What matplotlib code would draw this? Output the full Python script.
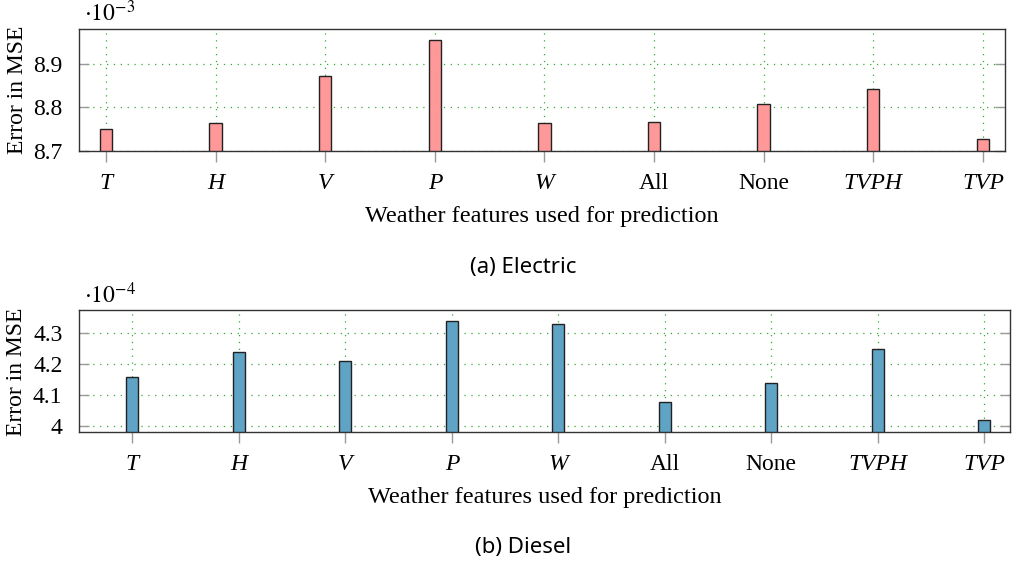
import numpy as np
import matplotlib
matplotlib.use("Agg")
import matplotlib.pyplot as plt

# Data
features = ["T", "H", "V", "P", "W", "All", "None", "TVPH", "TVP"]
italic = [True, True, True, True, True, False, False, True, True]
electric_mse = [8.750e-3, 8.763e-3, 8.871e-3, 8.955e-3, 8.764e-3, 8.766e-3, 8.808e-3, 8.842e-3, 8.727e-3]
diesel_mse = [4.16e-4, 4.24e-4, 4.21e-4, 4.34e-4, 4.33e-4, 4.08e-4, 4.14e-4, 4.25e-4, 4.02e-4]

plt.rcParams["font.family"] = "Liberation Serif"
plt.rcParams["mathtext.fontset"] = "stix"

fig = plt.figure(figsize=(10.16, 5.63), dpi=100)
ax1 = fig.add_axes([0.0778, 0.7318, 0.9112, 0.2172])
ax2 = fig.add_axes([0.0778, 0.2321, 0.9162, 0.2167])

FS = 17

def draw(ax, vals, scale, exp, color, ylim, yticks, ytlabels, xlim):
    x = np.arange(len(features))
    v = np.array(vals) / scale
    ax.bar(x, v - ylim[0], bottom=ylim[0], width=0.113, color=color,
           edgecolor="#222222", linewidth=1.0, zorder=3)
    ax.set_xlim(*xlim)
    ax.set_ylim(*ylim)
    ax.set_xticks(x)
    ax.set_xticklabels(features, fontsize=FS)
    for lab, it in zip(ax.get_xticklabels(), italic):
        if it:
            lab.set_fontstyle("italic")
    ax.set_yticks(yticks)
    ax.set_yticklabels(ytlabels, fontsize=FS)
    ax.grid(True, color="#33aa33", linestyle=(0, (1, 4.5)), linewidth=0.9, zorder=0)
    ax.set_axisbelow(True)
    ax.tick_params(axis="x", direction="out", length=8, width=1, color="#999999", pad=7.5)
    ax.tick_params(axis="y", direction="in", length=7, width=1, color="#999999",
                   right=True, pad=12)
    for s in ax.spines.values():
        s.set_color("#333333")
        s.set_linewidth(1.0)
    ax.set_ylabel("Error in MSE", fontsize=FS, labelpad=4)
    ax.set_xlabel("Weather features used for prediction", fontsize=17.5, labelpad=9)
    ax.text(0.005, 1.02, r"$\cdot 10^{%d}$" % exp, transform=ax.transAxes,
            fontsize=FS, va="bottom", ha="left")

draw(ax1, electric_mse, 1e-3, -3, "#ff9999", (8.7, 8.98), [8.7, 8.8, 8.9],
     ["8.7", "8.8", "8.9"], (-0.246, 8.2))
draw(ax2, diesel_mse, 1e-4, -4, "#5fa3c5", (3.981, 4.374), [4.0, 4.1, 4.2, 4.3],
     ["4", "4.1", "4.2", "4.3"], (-0.5, 8.24))

fig.text(0.515, 1 - 268 / 563, "(a) Electric", ha="center", va="center",
         fontsize=16, family="Noto Sans")
fig.text(0.515, 1 - 548 / 563, "(b) Diesel", ha="center", va="center",
         fontsize=16, family="Noto Sans")

fig.savefig("out.png", dpi=100)
